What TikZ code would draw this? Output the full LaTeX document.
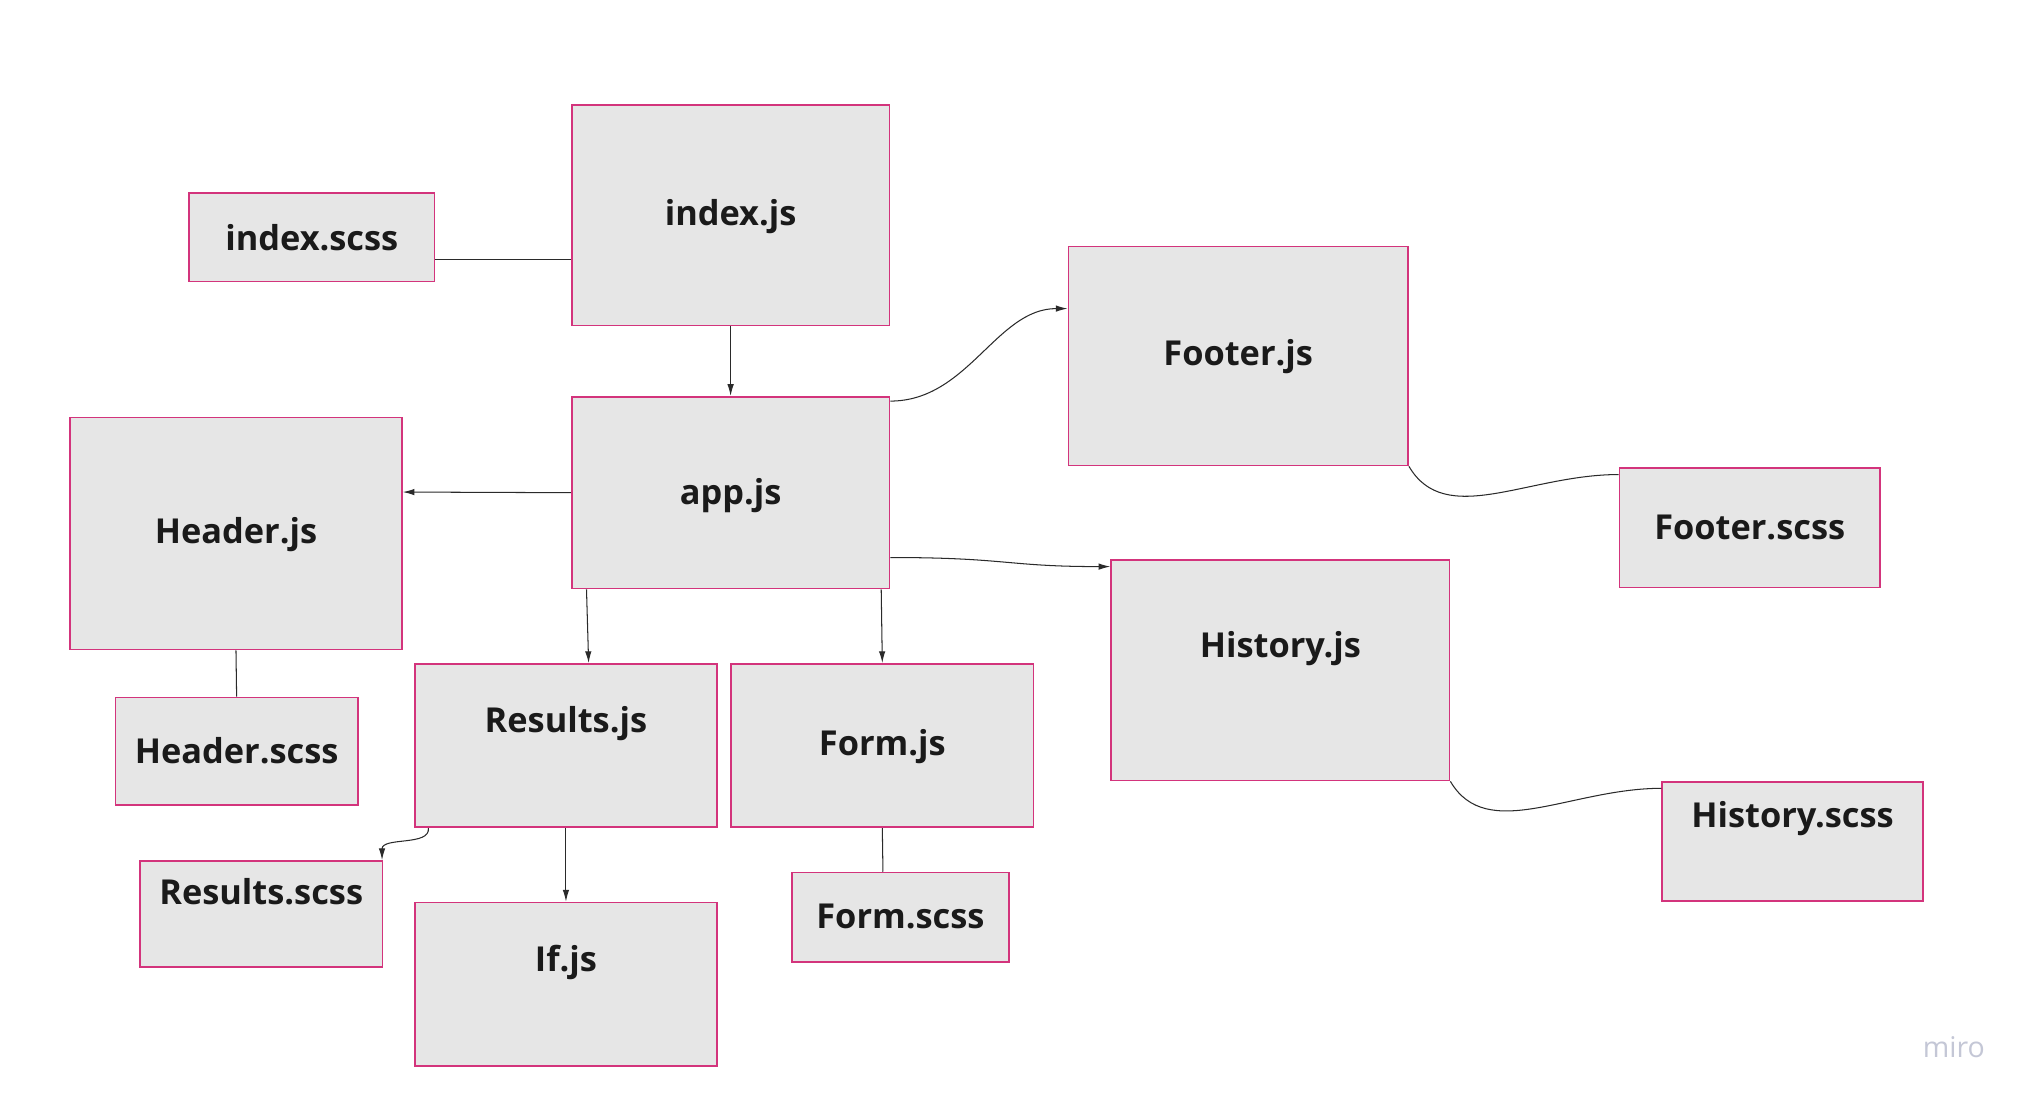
\documentclass[tikz,border=0pt]{standalone}
\usepackage{fontspec}
\setmainfont{Open Sans}
\usetikzlibrary{arrows.meta}
\definecolor{boxfill}{HTML}{E6E6E6}
\definecolor{boxline}{HTML}{D3347C}
\definecolor{txt}{HTML}{1A1A1A}
\definecolor{wire}{HTML}{2A2A2A}
\definecolor{logo}{HTML}{C4C7D6}
\tikzset{
  filebox/.style={draw=boxline, fill=boxfill, line width=1.3pt, inner sep=0pt},
  lbl/.style={font=\fontsize{26.5}{30}\selectfont\bfseries, text=txt, inner sep=0pt},
  wireline/.style={draw=wire, line width=0.8pt},
  wirearrow/.style={wireline, -{Latex[length=9pt,width=5pt]}},
}
\begin{document}
\begin{tikzpicture}[x=1pt,y=-1pt]
\useasboundingbox[fill=white] (0,0) rectangle (1568,853);
% boxes
\node[filebox, minimum width=189pt, minimum height=68pt]  (indexscss)  at (240.5,183) {};
\node[filebox, minimum width=245pt, minimum height=170pt] (indexjs)    at (563.5,166) {};
\node[filebox, minimum width=245pt, minimum height=148pt] (appjs)      at (563.5,380) {};
\node[filebox, minimum width=256pt, minimum height=179pt] (headerjs)   at (182,411.5) {};
\node[filebox, minimum width=187pt, minimum height=83pt]  (headerscss) at (182.5,579.5) {};
\node[filebox, minimum width=233pt, minimum height=126pt] (resultsjs)  at (436.5,575) {};
\node[filebox, minimum width=233pt, minimum height=126pt] (formjs)     at (680.5,575) {};
\node[filebox, minimum width=187pt, minimum height=82pt]  (resultsscss) at (201.5,705) {};
\node[filebox, minimum width=233pt, minimum height=126pt] (ifjs)       at (436.5,759) {};
\node[filebox, minimum width=167pt, minimum height=69pt]  (formscss)   at (694.5,707.5) {};
\node[filebox, minimum width=262pt, minimum height=169pt] (footerjs)   at (955,274.5) {};
\node[filebox, minimum width=201pt, minimum height=92pt]  (footerscss) at (1349.5,407) {};
\node[filebox, minimum width=261pt, minimum height=170pt] (historyjs)  at (987.5,517) {};
\node[filebox, minimum width=201pt, minimum height=92pt]  (historyscss) at (1382.5,649) {};
% labels
\node[lbl] (t1)  at (240.5,183) {index.scss};
\node[lbl] (t2)  at (563.5,167) {index.js};
\node[lbl] (t3)  at (563.5,382) {app.js};
\node[lbl] (t4)  at (182,412) {Header.js};
\node[lbl] (t5)  at (182.5,579) {Header.scss};
\node[lbl] (t6)  at (436.5,558) {Results.js};
\node[lbl] (t7)  at (680.5,576) {Form.js};
\node[lbl] (t8)  at (201.5,688) {Results.scss};
\node[lbl] (t9)  at (436.5,742) {If.js};
\node[lbl] (t10) at (694.5,707) {Form.scss};
\node[lbl] (t11) at (955,275) {Footer.js};
\node[lbl] (t12) at (1349.5,407) {Footer.scss};
\node[lbl] (t13) at (987.5,500) {History.js};
\node[lbl] (t14) at (1382.5,631) {History.scss};
\node[font=\fontsize{22}{26}\selectfont, text=logo, inner sep=0pt] (miro) at (1507,808) {miro};
% connectors
\draw[wireline] ([yshift=-17pt]indexscss.east) -- ([yshift=-34pt]indexjs.west);
\draw[wirearrow] (indexjs.south) -- (appjs.north);
\draw[wirearrow] (appjs.west) -- ([yshift=32pt]headerjs.east);
\draw[wirearrow] ([yshift=-4pt]appjs.north east) .. controls +(60,0) and +(-55,0) .. ([yshift=36.5pt]footerjs.west);
\draw[wireline] (footerjs.south east) .. controls +(28,48) and +(-70,0) .. ([yshift=41pt]footerscss.west);
\draw[wirearrow] ([yshift=-50pt]appjs.east) .. controls +(90,0) and +(-80,0) .. ([yshift=80pt]historyjs.west);
\draw[wireline] (historyjs.south east) .. controls +(28,48) and +(-70,0) .. ([yshift=41pt]historyscss.west);
\draw[wirearrow] ([xshift=12pt]appjs.south west) -- ([xshift=17.5pt]resultsjs.north);
\draw[wirearrow] ([xshift=-7pt]appjs.south east) -- (formjs.north);
\draw[wireline] (headerjs.south) -- (headerscss.north);
\draw[wirearrow] ([xshift=11pt]resultsjs.south west) .. controls +(2,14) and +(0,-18) .. ([xshift=-1pt]resultsscss.north east);
\draw[wirearrow] (resultsjs.south) -- (ifjs.north);
\draw[wireline] (formjs.south) -- ([xshift=-13.5pt]formscss.north);
\end{tikzpicture}
\end{document}
